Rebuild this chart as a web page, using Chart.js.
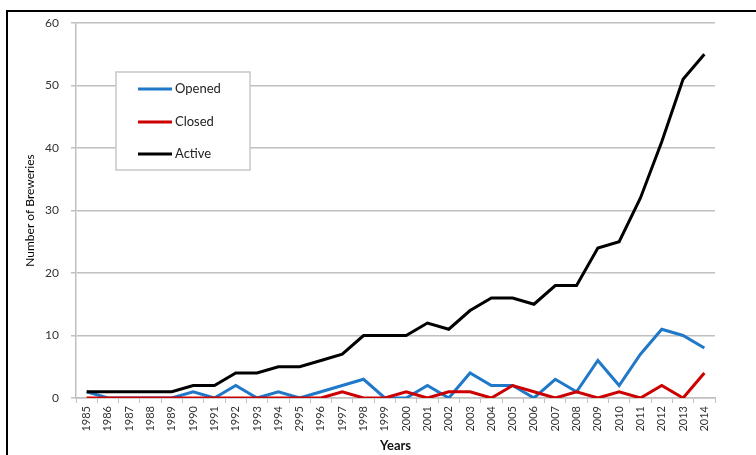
<!DOCTYPE html>
<html>
<head>
<meta charset="utf-8">
<script src="https://cdn.jsdelivr.net/npm/chart.js@4/dist/chart.umd.min.js"></script>
<style>
  body { margin: 0; background: #fff; }
  canvas { display: block; }
</style>
</head>
<body>
<canvas id="breweries" width="756" height="455"></canvas>
<script>
const years = ['1985', '1986', '1987', '1988', '1989', '1990', '1991', '1992', '1993', '1994',
    '2995', '1996', '1997', '1998', '1999', '2000', '2001', '2002', '2003', '2004',
    '2005', '2006', '2007', '2008', '2009', '2010', '2011', '2012', '2013', '2014'];
const opened = [1, 0, 0, 0, 0, 1, 0, 2, 0, 1, 0, 1, 2, 3, 0, 0, 2, 0, 4, 2, 2, 0, 3, 1, 6, 2, 7, 11, 10, 8];
const closed = [0, 0, 0, 0, 0, 0, 0, 0, 0, 0, 0, 0, 1, 0, 0, 1, 0, 1, 1, 0, 2, 1, 0, 1, 0, 1, 0, 2, 0, 4];
const active = [1, 1, 1, 1, 1, 2, 2, 4, 4, 5, 5, 6, 7, 10, 10, 10, 12, 11, 14, 16, 16, 15, 18, 18, 24, 25, 32, 41, 51, 55];

const blue = '#1f78c8';
const red = '#cc0000';
const gridGrey = '#c0c0c0';

// frame lines and the legend box sitting inside the plot
const decorations = {
    id: 'decorations',
    afterDraw(chart) {
        const c = chart.ctx;
        c.save();
        c.strokeStyle = '#000';
        c.lineWidth = 2;
        c.beginPath();
        c.moveTo(7, 455);
        c.lineTo(7, 11);
        c.lineTo(756, 11);
        c.stroke();

        c.fillStyle = '#fff';
        c.fillRect(116, 72, 134, 98);
        c.strokeStyle = '#c8c8c8';
        c.lineWidth = 1.5;
        c.strokeRect(116, 72, 134, 98);

        const items = chart.data.datasets;
        const rows = [89, 122, 154];
        c.font = '13px Lato';
        c.textBaseline = 'middle';
        items.forEach((ds, i) => {
            c.strokeStyle = ds.borderColor;
            c.lineWidth = 3;
            c.beginPath();
            c.moveTo(138, rows[i]);
            c.lineTo(172, rows[i]);
            c.stroke();
            c.fillStyle = '#222';
            c.fillText(ds.label, 175, rows[i]);
        });
        c.restore();
    }
};

new Chart(document.getElementById('breweries').getContext('2d'), {
    type: 'line',
    data: {
        labels: years,
        datasets: [
            { label: 'Opened', data: opened, borderColor: blue, order: 3 },
            { label: 'Closed', data: closed, borderColor: red, order: 2 },
            { label: 'Active', data: active, borderColor: '#000', order: 1 }
        ]
    },
    options: {
        responsive: false,
        animation: false,
        layout: { padding: { left: 0, right: 41, top: 23, bottom: 0 } },
        elements: {
            line: { borderWidth: 3, tension: 0 },
            point: { radius: 0 }
        },
        plugins: {
            legend: { display: false },
            tooltip: { enabled: false }
        },
        scales: {
            x: {
                offset: true,
                grid: { offset: true, drawOnChartArea: false, color: gridGrey, tickLength: 5 },
                border: { color: gridGrey, width: 1.5 },
                ticks: {
                    minRotation: 90, maxRotation: 90, autoSkip: false, padding: 3,
                    color: '#333', font: { family: 'Lato', size: 11 }
                },
                title: {
                    display: true, text: 'Years', color: '#111',
                    font: { family: 'Lato', size: 13, weight: 'bold' },
                    padding: { top: 0, bottom: 1 }
                },
                afterFit(scale) { scale.height = 57; }
            },
            y: {
                min: 0, max: 60,
                ticks: { stepSize: 10, padding: 12, color: '#333', font: { family: 'Lato', size: 12 } },
                grid: { color: gridGrey, lineWidth: 1.5, tickLength: 5 },
                border: { color: gridGrey, width: 1.5 },
                title: {
                    display: true, text: 'Number of Breweries', color: '#000',
                    font: { family: 'Lato', size: 12 },
                    padding: { top: 23, bottom: 0 }
                },
                afterFit(scale) { scale.width = 76; }
            }
        }
    },
    plugins: [decorations]
});
</script>
</body>
</html>
